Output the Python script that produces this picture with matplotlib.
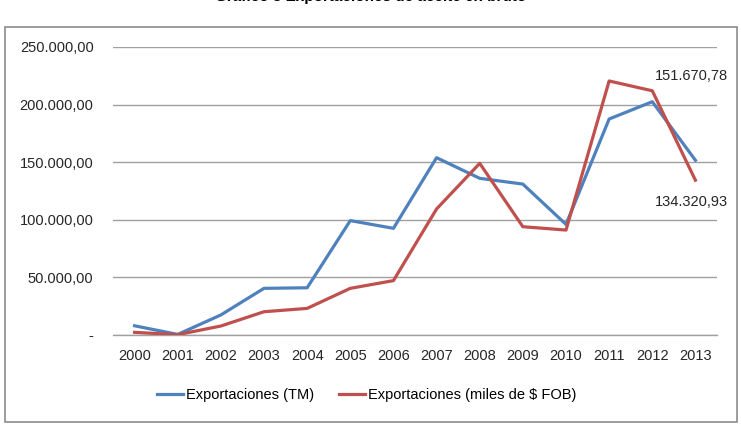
import matplotlib
matplotlib.use("Agg")
import matplotlib.pyplot as plt
import matplotlib.ticker as ticker
from matplotlib.patches import Rectangle

years = ["2000", "2001", "2002", "2003", "2004", "2005", "2006",
         "2007", "2008", "2009", "2010", "2011", "2012", "2013"]
tm = [8000, 500, 17400, 40500, 41000, 99300, 92600,
      153900, 136000, 131000, 96000, 187500, 202500, 151670.78]
fob = [2300, 300, 7800, 20200, 23100, 40500, 47200,
       109400, 149000, 94000, 91100, 220500, 212000, 134320.93]

plt.rcParams["font.family"] = ["Liberation Sans", "DejaVu Sans"]

fig = plt.figure(figsize=(7.41, 4.34), dpi=100)
fig.patches.append(Rectangle((5 / 741, 1 - 422 / 434), 732 / 741, 395 / 434,
                             transform=fig.transFigure, fill=False,
                             edgecolor="#8c8c8c", linewidth=1.2))
# title is cropped at the top edge in the original, only its lower part shows
fig.text(0.5, 1.006, "Gráfico 3 Exportaciones de aceite en bruto",
         ha="center", va="center", fontsize=11, fontweight="bold")

ax = fig.add_axes([113 / 741, 1 - 335 / 434, 604 / 741, 288 / 434])
x = range(len(years))
ax.plot(x, tm, color="#4F81BD", linewidth=2.3, label="Exportaciones (TM)")
ax.plot(x, fob, color="#C0504D", linewidth=2.3, label="Exportaciones (miles de $ FOB)")

ax.set_xlim(-0.5, len(years) - 0.5)
ax.set_ylim(0, 250000)
ax.set_xticks(list(x))
ax.set_xticklabels(years)
ax.set_yticks(range(0, 250001, 50000))


def fmt(v, _):
    if v == 0:
        return "-"
    return f"{v:,.2f}".replace(",", "X").replace(".", ",").replace("X", ".")


ax.yaxis.set_major_formatter(ticker.FuncFormatter(fmt))
ax.grid(axis="y", color="#a0a0a0", linewidth=1)
ax.axhline(0, color="#a0a0a0", linewidth=1, clip_on=False, zorder=0.5)
ax.set_axisbelow(True)
for s in ax.spines.values():
    s.set_visible(False)
ax.tick_params(axis="both", length=0, labelsize=10.5, colors="#262626")
ax.tick_params(axis="y", pad=14)
ax.tick_params(axis="x", pad=10)

ax.annotate(fmt(tm[-1], None), (len(years) - 1, tm[-1]), xytext=(-3, 61),
            textcoords="offset points", ha="center", va="center",
            fontsize=10.5, color="#262626")
ax.annotate(fmt(fob[-1], None), (len(years) - 1, fob[-1]), xytext=(-3, -16),
            textcoords="offset points", ha="center", va="center",
            fontsize=10.5, color="#262626")

fig.legend(loc="center", bbox_to_anchor=(0.495, 1 - 395 / 434), ncol=2,
           frameon=False, fontsize=10.5, handlelength=1.8, handletextpad=0.2,
           columnspacing=1.7)

fig.savefig("out.png", dpi=100)
